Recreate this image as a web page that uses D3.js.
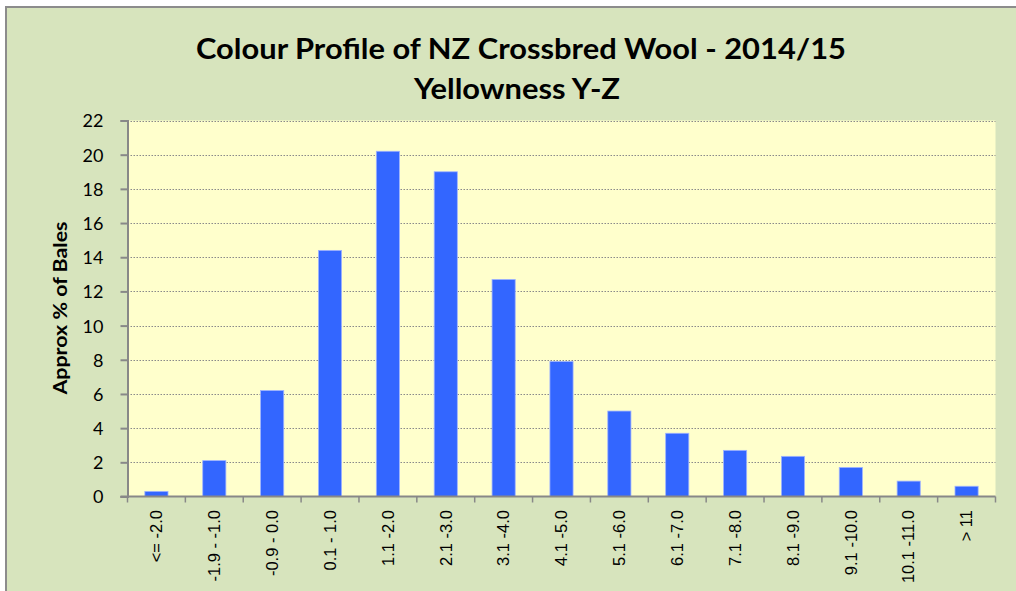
<!DOCTYPE html>
<html>
<head>
<meta charset="utf-8">
<script src="https://cdn.jsdelivr.net/npm/d3@7"></script>
<style>
  html, body { margin: 0; padding: 0; background: #ffffff; }
  svg { display: block; }
</style>
</head>
<body>
<svg id="chart" width="1016" height="591"></svg>
<script>
const categories = ["<= -2.0", "-1.9 - -1.0", "-0.9 - 0.0", "0.1 - 1.0", "1.1 -2.0", "2.1 -3.0", "3.1 -4.0", "4.1 -5.0", "5.1 -6.0", "6.1 -7.0", "7.1 -8.0", "8.1 -9.0", "9.1 -10.0", "10.1 -11.0", "> 11"];
const values = [0.3, 2.1, 6.2, 14.4, 20.2, 19.0, 12.7, 7.9, 5.0, 3.7, 2.7, 2.35, 1.7, 0.9, 0.6];
const yTicks = [0, 2, 4, 6, 8, 10, 12, 14, 16, 18, 20, 22];
const titleLines = ["Colour Profile of NZ Crossbred Wool - 2014/15", "Yellowness Y-Z"];
const yTitle = "Approx % of Bales";

const svg = d3.select("#chart");
const W = 1016, H = 591;
const plot = { left: 127.5, right: 995.5, top: 120.5, bottom: 496.5 };

// outer chart area
svg.append("rect").attr("x", 6).attr("y", 7).attr("width", W + 10).attr("height", H + 10)
  .attr("fill", "#D7E4BD").attr("stroke", "#8c8c8c").attr("stroke-width", 2);

const x = d3.scaleBand().domain(categories).range([plot.left, plot.right]).paddingInner(0.6).paddingOuter(0.3);
const y = d3.scaleLinear().domain([0, 22]).range([plot.bottom, plot.top]);

// plot area
svg.append("rect").attr("x", plot.left).attr("y", plot.top)
  .attr("width", plot.right - plot.left).attr("height", plot.bottom - plot.top)
  .attr("fill", "#FFFFCC");

// gridlines
svg.append("g").selectAll("line").data(yTicks.filter(d => d > 0)).join("line")
  .attr("x1", plot.left).attr("x2", plot.right)
  .attr("y1", d => Math.round(y(d)) + 0.5).attr("y2", d => Math.round(y(d)) + 0.5)
  .attr("stroke", "#8a8a8a").attr("stroke-width", 1.2).attr("stroke-dasharray", "1.5,1.5");

// bars
svg.append("g").selectAll("rect").data(values).join("rect")
  .attr("x", (d, i) => x(categories[i]))
  .attr("y", d => y(d))
  .attr("width", x.bandwidth())
  .attr("height", d => plot.bottom - y(d))
  .attr("fill", "#3366FF")
  .attr("stroke", "#9fb3ff").attr("stroke-width", 0.8);

// y axis
const yAxis = d3.axisLeft(y).tickValues(yTicks).tickSize(7).tickPadding(17);
const gy = svg.append("g").attr("transform", `translate(${plot.left},0)`).call(yAxis);
gy.select(".domain").attr("stroke", "#888").attr("stroke-width", 2);
gy.selectAll(".tick line").attr("stroke", "#888").attr("stroke-width", 2);
gy.selectAll(".tick text").attr("font-family", "Lato, 'Open Sans', sans-serif")
  .attr("font-size", 18).attr("fill", "#000").attr("dy", "0.36em");

// x axis: ticks at band boundaries
const bounds = categories.map(c => x(c) - x.step() * x.paddingInner() / 2);
bounds.push(plot.right);
const gx = svg.append("g");
gx.append("line").attr("x1", plot.left - 7).attr("x2", plot.right)
  .attr("y1", plot.bottom).attr("y2", plot.bottom)
  .attr("stroke", "#888").attr("stroke-width", 2);
gx.selectAll("line.tk").data(bounds).join("line").attr("class", "tk")
  .attr("x1", d => d).attr("x2", d => d)
  .attr("y1", plot.bottom).attr("y2", plot.bottom + 6)
  .attr("stroke", "#888").attr("stroke-width", 1.5);
gx.selectAll("text").data(categories).join("text")
  .attr("transform", d => `translate(${x(d) + x.bandwidth() / 2},510) rotate(-90)`)
  .attr("text-anchor", "end").attr("dy", "0.35em")
  .attr("font-family", "'Liberation Sans', Arial, sans-serif").attr("font-size", 16.5)
  .attr("fill", "#000").text(d => d);

// titles
const tfont = "Lato, 'Open Sans', sans-serif";
svg.append("text").attr("x", 521).attr("y", 59).attr("text-anchor", "middle")
  .attr("font-family", tfont).attr("font-weight", "bold").attr("font-size", 28)
  .attr("textLength", 650).attr("lengthAdjust", "spacingAndGlyphs")
  .attr("fill", "#000").text(titleLines[0]);
svg.append("text").attr("x", 517).attr("y", 99).attr("text-anchor", "middle")
  .attr("font-family", tfont).attr("font-weight", "bold").attr("font-size", 28)
  .attr("textLength", 206).attr("lengthAdjust", "spacingAndGlyphs")
  .attr("fill", "#000").text(titleLines[1]);

svg.append("text").attr("transform", "translate(67,308) rotate(-90)")
  .attr("text-anchor", "middle")
  .attr("font-family", tfont).attr("font-weight", "bold").attr("font-size", 19)
  .attr("textLength", 173).attr("lengthAdjust", "spacingAndGlyphs")
  .attr("fill", "#000").text(yTitle);
</script>
</body>
</html>
